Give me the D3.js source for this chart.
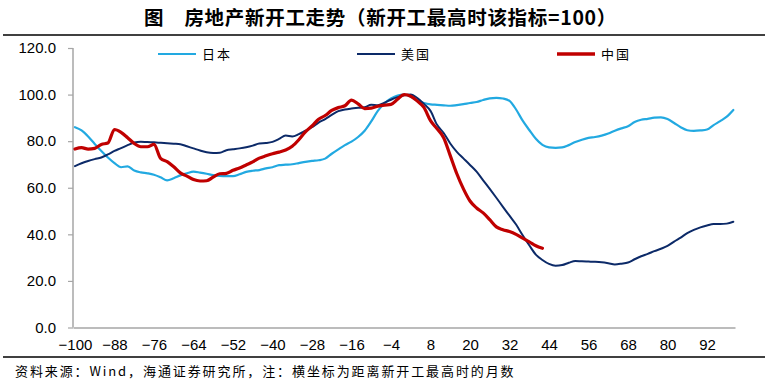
<!DOCTYPE html>
<html><head><meta charset="utf-8">
<script src="https://cdn.jsdelivr.net/npm/d3@7"></script>
<style>
html,body{margin:0;padding:0;background:#fff;}
svg{display:block;}
</style></head>
<body>
<svg id="chart" width="768" height="382"></svg>
<script>
// months from the peak of new starts (every 2 months)
const months = d3.range(-100, 101, 2);
const xTicks = d3.range(-100, 93, 12);
const yTicks = [0, 20, 40, 60, 80, 100, 120];
const seriesNames = ["日本", "美国", "中国"];

const japan = [86.0,84.6,82.0,78.8,75.8,73.0,70.6,68.8,69.2,67.4,66.6,66.2,65.6,64.5,63.2,64.1,65.3,66.2,66.9,66.5,
  66.0,65.4,65.1,65.0,65.0,65.8,66.8,67.3,67.6,68.3,68.8,69.7,69.9,70.1,70.6,71.1,71.5,71.8,72.5,74.6,
  76.5,78.3,79.8,81.8,84.5,88.5,93.0,96.2,98.3,99.6,100,99.2,97.5,96.4,95.8,95.6,95.4,95.2,95.5,95.9,
  96.4,96.8,97.7,98.4,98.6,98.3,97.3,93.6,88.8,84.8,81.0,78.4,77.3,77.1,77.3,78.3,79.6,80.6,81.4,81.8,
  82.4,83.3,84.5,85.5,86.4,88.2,89.2,89.6,90.1,90.2,89.5,87.8,86.0,84.7,84.4,84.6,85.0,86.9,88.6,90.5,93.4];

const usa = [69.3,70.5,71.5,72.3,73.0,74.3,75.8,77.0,78.3,79.4,79.8,79.6,79.5,79.3,79.1,78.9,78.7,77.8,76.9,76.0,
  75.2,74.9,75.0,76.1,76.5,76.9,77.4,78.1,79.0,79.2,79.7,81.0,82.4,82.0,83.0,84.5,86.0,88.0,89.5,91.3,
  92.9,93.6,94.0,94.3,94.6,95.6,95.4,96.5,97.8,98.9,99.7,100,98.5,96.0,93.0,87.0,83.5,79.0,75.4,72.6,
  69.8,66.9,63.2,59.5,55.7,51.8,48.0,44.2,39.6,35.3,31.3,29.0,27.3,26.5,26.8,27.8,28.6,28.4,28.3,28.2,
  28.0,27.6,27.1,27.4,27.9,29.3,30.6,31.6,32.8,33.8,35.0,36.9,38.6,40.5,41.9,43.0,43.8,44.4,44.4,44.6,45.4];

const china = [76.6,77.2,76.6,76.9,78.6,79.2,85.0,83.8,81.5,79.0,77.6,77.6,78.6,72.6,71.2,69.0,66.4,65.0,63.5,62.9,
  63.0,64.6,66.0,66.2,67.5,68.5,69.8,71.1,72.7,73.7,74.6,75.3,76.2,77.8,80.6,84.0,86.5,89.4,91.0,93.2,
  94.4,95.2,97.6,96.0,94.0,94.2,95.0,95.5,95.8,98.0,100,99.3,97.2,94.5,88.8,85.3,81.5,73.8,66.0,59.5,
  54.3,51.3,49.2,46.3,43.2,42.0,41.2,40.0,38.4,36.8,35.1,34.0];

const colors = ["#22a9e1", "#0c2a68", "#c00000"];
const widths = [2.2, 2, 3.2];

const svg = d3.select("#chart");
const x = d3.scaleLinear().domain([-100.6, 100.5]).range([73, 735]);
const y = d3.scaleLinear().domain([0, 120]).range([327.5, 48]);

// title
svg.append("text").attr("x", 380.5).attr("y", 25).attr("text-anchor", "middle")
  .attr("font-family", "'Noto Sans CJK SC', sans-serif").attr("font-weight", "bold")
  .attr("font-size", 19.5).attr("letter-spacing", 0.7).attr("fill", "#000")
  .text("图　房地产新开工走势（新开工最高时该指标=100）");
svg.append("line").attr("x1", 3).attr("x2", 765).attr("y1", 35).attr("y2", 35)
  .attr("stroke", "#000").attr("stroke-width", 1.5);
svg.append("line").attr("x1", 3).attr("x2", 765).attr("y1", 357).attr("y2", 357)
  .attr("stroke", "#000").attr("stroke-width", 1.5);
svg.append("text").attr("x", 15).attr("y", 376)
  .attr("font-family", "'Noto Sans CJK SC', sans-serif").attr("font-size", 13)
  .attr("letter-spacing", 1.9).attr("fill", "#000")
  .text("资料来源：Wind，海通证券研究所，注：横坐标为距离新开工最高时的月数");

// axes
const yAxis = d3.axisLeft(y).tickValues(yTicks).tickFormat(d3.format(".1f")).tickSize(5).tickPadding(12);
const gy = svg.append("g").attr("transform", "translate(73,0)").call(yAxis);
gy.select(".domain").attr("stroke", "#a6a6a6").attr("stroke-width", 1.5).attr("d", `M0,${y(120)}V${y(0)}`);
gy.selectAll(".tick line").attr("stroke", "#a6a6a6").attr("stroke-width", 1.2);
gy.selectAll(".tick text").attr("font-family", "'Liberation Sans', Arial, sans-serif")
  .attr("font-size", 15).attr("fill", "#000");

const xAxis = d3.axisBottom(x).tickValues(xTicks).tickFormat(d3.format("d")).tickSize(0).tickPadding(12);
const gx = svg.append("g").attr("transform", `translate(0,${y(0)})`).call(xAxis);
gx.select(".domain").attr("stroke", "#a6a6a6").attr("stroke-width", 1.5);
gx.selectAll(".tick text").attr("font-family", "'Liberation Sans', Arial, sans-serif")
  .attr("font-size", 15).attr("fill", "#000");

// lines
const line = d3.line().defined(d => d[1] != null).x(d => x(d[0])).y(d => y(d[1])).curve(d3.curveMonotoneX);
[japan, usa, china].forEach((vals, i) => {
  const pts = vals.map((v, j) => [months[j], v]);
  svg.append("path").datum(pts).attr("d", line).attr("fill", "none")
    .attr("stroke", colors[i]).attr("stroke-width", widths[i])
    .attr("stroke-linejoin", "round").attr("stroke-linecap", "round");
});

// legend
const legendX = [158, 357, 557];
seriesNames.forEach((n, i) => {
  svg.append("line").attr("x1", legendX[i]).attr("x2", legendX[i] + 38)
    .attr("y1", 54).attr("y2", 54).attr("stroke", colors[i]).attr("stroke-width", i === 2 ? 3.5 : 2.2);
  svg.append("text").attr("x", legendX[i] + 44).attr("y", 59)
    .attr("font-family", "'Noto Sans CJK SC', sans-serif").attr("font-size", 13)
    .attr("letter-spacing", 2).attr("fill", "#000").text(n);
});
</script>
</body></html>
